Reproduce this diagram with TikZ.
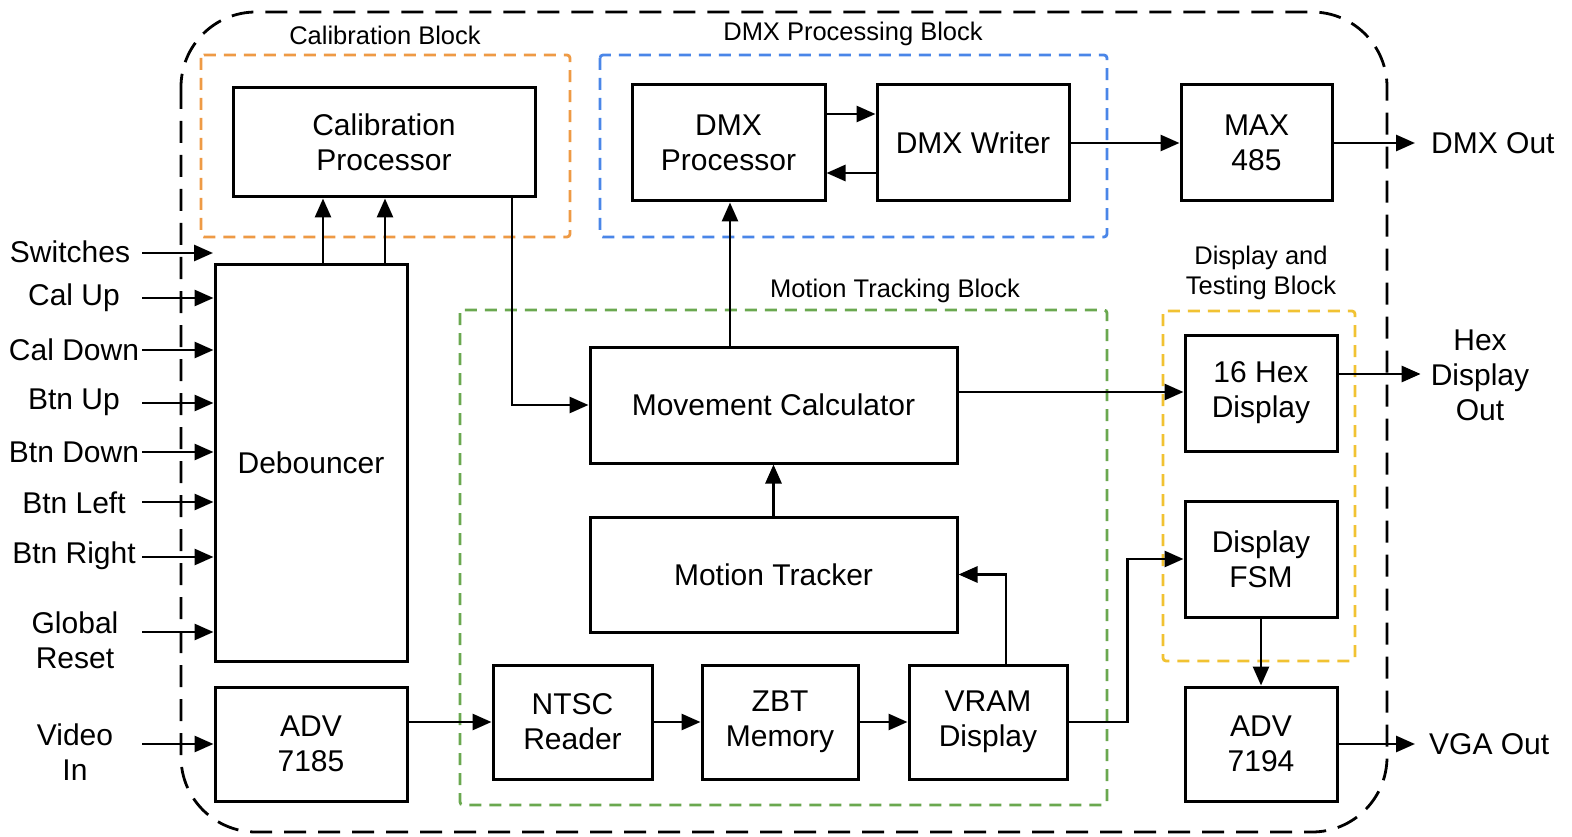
\documentclass[tikz,border=0pt]{standalone}
\usepackage{fontspec}
\setmainfont{Liberation Sans}
\usetikzlibrary{arrows.meta}
\definecolor{calorange}{HTML}{EE9A45}
\definecolor{dmxblue}{HTML}{4A86E8}
\definecolor{mtgreen}{HTML}{6AA84F}
\definecolor{dispyellow}{HTML}{F1C232}
\tikzset{
  blk/.style={draw, line width=3pt, inner sep=0pt, align=center,
    font=\fontsize{30}{35}\selectfont},
  arr/.style={line width=2.8pt, -{Triangle[length=19pt,width=16pt]}},
  lbl/.style={inner sep=0pt, align=center, font=\fontsize{30}{35}\selectfont},
  grplbl/.style={inner sep=0pt, align=center, font=\fontsize{25.5}{30}\selectfont},
  grp/.style={line width=2.8pt, dash pattern=on 12pt off 8pt, rounded corners=3pt},
  outerbox/.style={line width=2.8pt, dash pattern=on 22pt off 12pt, rounded corners=75pt},
}
\begin{document}
\begin{tikzpicture}[x=1pt,y=-1pt]
\useasboundingbox (0,0) rectangle (1572,837);

% outer box
\draw[outerbox] (181,12) rectangle (1387,832);

% group boxes
\draw[grp, calorange] (201,55) rectangle (570,237);
\draw[grp, dmxblue] (600,55) rectangle (1107,237);
\draw[grp, mtgreen] (460,310) rectangle (1107,805);
\draw[grp, dispyellow] (1163,311) rectangle (1355,661);

% group labels
\node[grplbl] (lcal) at (385,35) {Calibration Block};
\node[grplbl] (ldmx) at (853,34) {DMX Processing Block};
\node[grplbl] (lmt) at (895,291) {Motion Tracking Block};
\node[grplbl] (ldisp) at (1261,273) {Display and\\Testing Block};

% blocks
\node[blk, minimum width=302pt, minimum height=109pt] (calp) at (384,142.5) {Calibration\\Processor};
\node[blk, minimum width=193pt, minimum height=116pt] (dmxp) at (728.5,143) {DMX\\Processor};
\node[blk, minimum width=192pt, minimum height=116pt] (dmxw) at (973,143) {DMX Writer};
\node[blk, minimum width=151pt, minimum height=116pt] (max) at (1256.5,143) {MAX\\485};
\node[blk, minimum width=192pt, minimum height=396pt] (deb) at (311,463) {Debouncer};
\node[blk, minimum width=192pt, minimum height=114pt] (adv1) at (311,744) {ADV\\7185};
\node[blk, minimum width=367pt, minimum height=116pt] (mov) at (773.5,405) {Movement Calculator};
\node[blk, minimum width=367pt, minimum height=115pt] (trk) at (773.5,574.5) {Motion Tracker};
\node[blk, minimum width=159pt, minimum height=114pt] (ntsc) at (572.5,722) {NTSC\\Reader};
\node[blk, minimum width=156pt, minimum height=114pt] (zbt) at (780,722) {ZBT\\Memory};
\node[blk, minimum width=158pt, minimum height=114pt] (vram) at (988,722) {VRAM\\Display};
\node[blk, minimum width=152pt, minimum height=116pt] (hex) at (1261,393) {16 Hex\\Display};
\node[blk, minimum width=152pt, minimum height=116pt] (fsm) at (1261,559) {Display\\FSM};
\node[blk, minimum width=152pt, minimum height=114pt] (adv2) at (1261,744) {ADV\\7194};

% left labels
\node[lbl] (tsw) at (70,252) {Switches};
\node[lbl] (tcu) at (74,298) {Cal Up};
\node[lbl] (tcd) at (74,350) {Cal Down};
\node[lbl] (tbu) at (74,402) {Btn Up};
\node[lbl] (tbd) at (74,452) {Btn Down};
\node[lbl] (tbl) at (74,503) {Btn Left};
\node[lbl] (tbr) at (74,556) {Btn Right};
\node[lbl] (tgr) at (75,640) {Global\\Reset};
\node[lbl] (tvi) at (75,752) {Video\\In};

\coordinate (isw) at (142,253);
\coordinate (iswend) at (213,253);
\coordinate (icu) at (142,298);
\coordinate (icd) at (142,350);
\coordinate (ibu) at (142,403);
\coordinate (ibd) at (142,452);
\coordinate (ibl) at (142,502);
\coordinate (ibr) at (142,557);
\coordinate (igr) at (142,632);
\coordinate (ivi) at (142,744);

\draw[arr] (isw) -- (iswend);
\draw[arr] (icu) -- (icu -| deb.west);
\draw[arr] (icd) -- (icd -| deb.west);
\draw[arr] (ibu) -- (ibu -| deb.west);
\draw[arr] (ibd) -- (ibd -| deb.west);
\draw[arr] (ibl) -- (ibl -| deb.west);
\draw[arr] (ibr) -- (ibr -| deb.west);
\draw[arr] (igr) -- (igr -| deb.west);
\draw[arr] (ivi) -- (ivi -| adv1.west);

% right labels
\node[lbl, anchor=west, inner sep=16pt] (tdmx) at (1415,143) {DMX Out};
\node[lbl, inner sep=10pt] (thex) at (1480,375) {Hex\\Display\\Out};
\node[lbl, anchor=west, inner sep=14pt] (tvga) at (1415,744) {VGA Out};

% connectors
\draw[arr] ([xshift=12pt]deb.north) -- ([xshift=12pt]deb.north |- calp.south);
\draw[arr] ([xshift=74pt]deb.north) -- ([xshift=74pt]deb.north |- calp.south);
\draw[arr] ([xshift=128pt]calp.south) |- (mov.west);
\draw[arr] ([yshift=29pt]dmxp.east) -- ([yshift=29pt]dmxw.west);
\draw[arr] ([yshift=-30pt]dmxw.west) -- ([yshift=-30pt]dmxp.east);
\draw[arr] (dmxw.east) -- (max.west);
\draw[arr] (max.east) -- (tdmx.west);
\draw[arr] ([xshift=-43.5pt]mov.north) -- ([xshift=-43.5pt]mov.north |- dmxp.south);
\draw[arr] (trk.north) -- (mov.south);
\draw[arr] ([yshift=22pt]adv1.east) -- (ntsc.west);
\draw[arr] (ntsc) -- (zbt);
\draw[arr] (zbt) -- (vram);
\draw[arr] ([xshift=18pt]vram.north) |- (trk.east);
\draw[arr] (vram.east) -- ++(59,0) |- (fsm.west);
\draw[arr] ([yshift=13pt]mov.east) -- ([yshift=13pt]mov.east -| hex.west);
\draw[arr] ([yshift=19pt]hex.east) -- ([yshift=19pt]hex.east -| thex.west);
\draw[arr] (fsm.south) -- (adv2.north);
\draw[arr] (adv2.east) -- (tvga.west);
\end{tikzpicture}
\end{document}
